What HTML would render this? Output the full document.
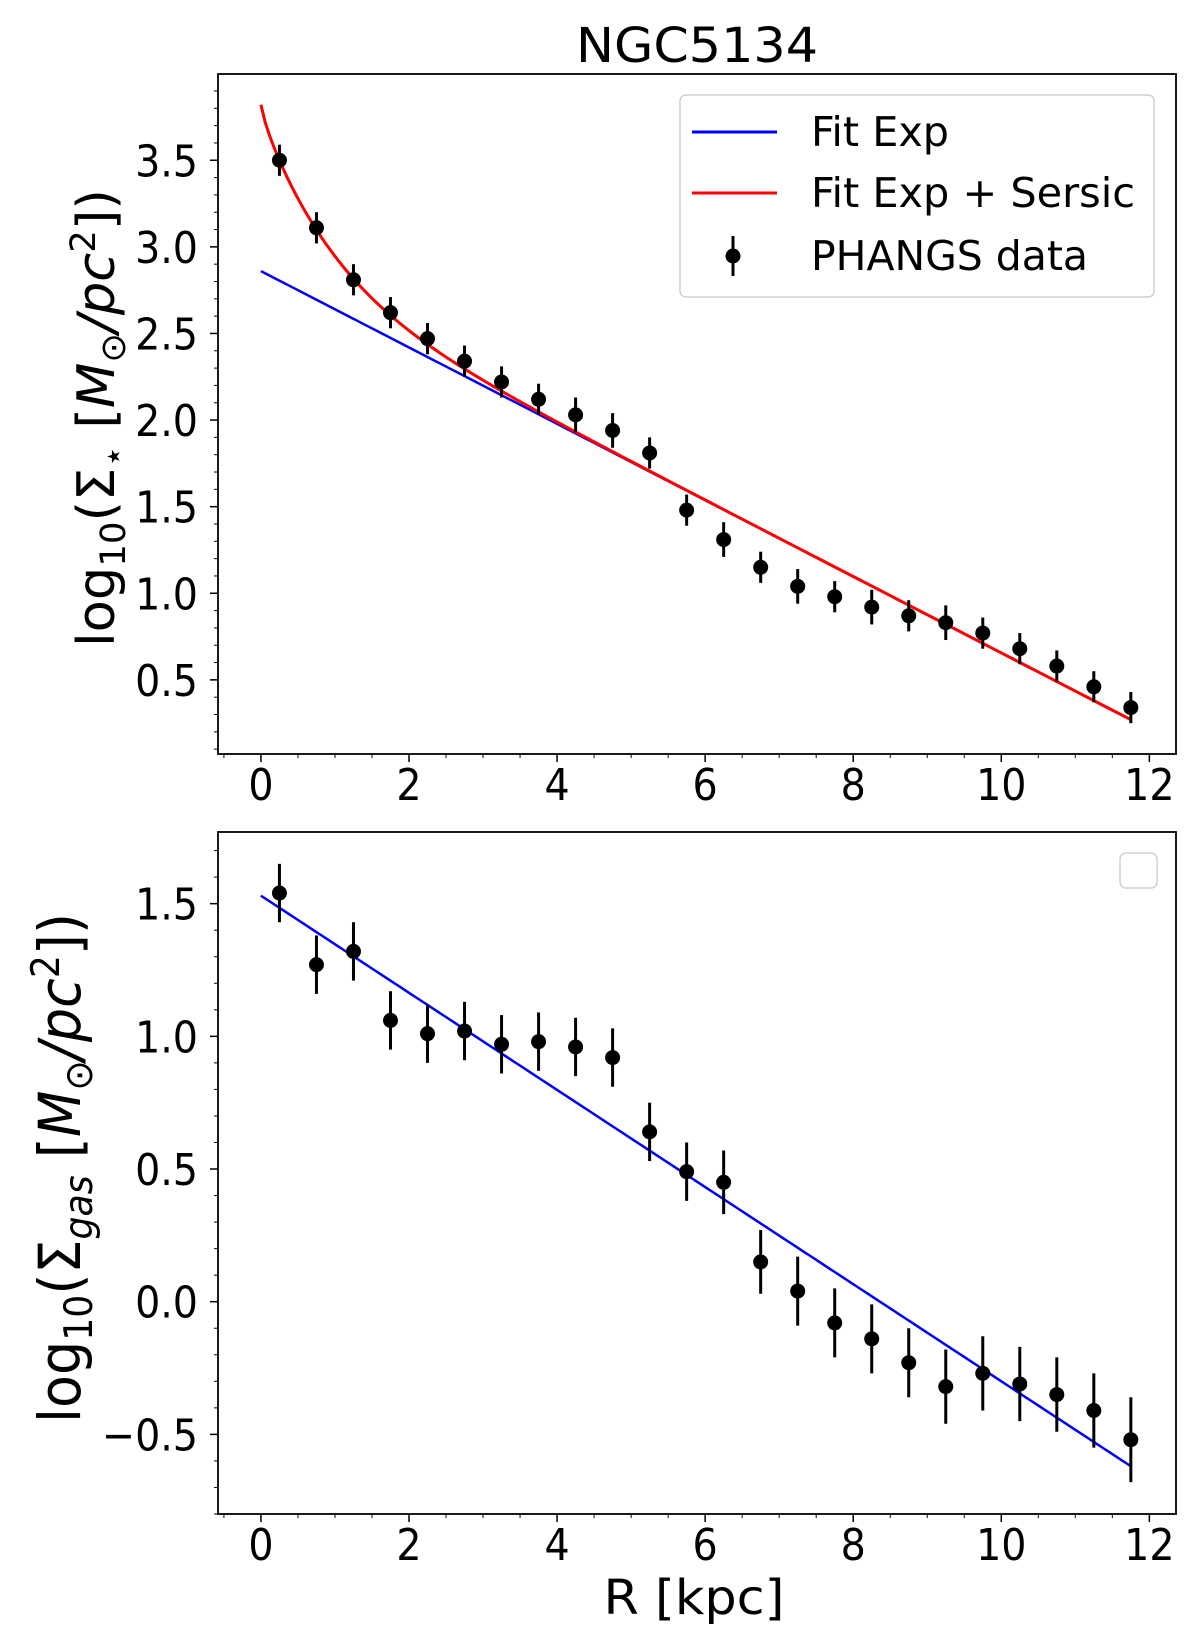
<!DOCTYPE html>
<html><head><meta charset="utf-8"><style>
html,body{margin:0;padding:0;background:#fff;}
svg{display:block;font-family:"DejaVu Sans","Liberation Sans",sans-serif;}
</style></head><body>
<svg id="fig" width="1200" height="1651" viewBox="0 0 1200 1651" xmlns="http://www.w3.org/2000/svg">
<text x="697" y="62" font-size="48" font-stretch="condensed" text-anchor="middle" textLength="242" lengthAdjust="spacingAndGlyphs">NGC5134</text>
<g id="topPanel"></g>
<g id="botPanel"></g>
<text transform="translate(114,418) rotate(-90)" font-size="52" text-anchor="middle" textLength="458" lengthAdjust="spacingAndGlyphs">log<tspan font-size="35" dy="11">10</tspan><tspan dy="-11">(Σ</tspan><tspan font-size="35" dy="11">⋆</tspan><tspan dy="-11"> [</tspan><tspan font-style="italic">M</tspan><tspan font-size="35" dy="11">⊙</tspan><tspan dy="-11" font-style="italic">/pc</tspan><tspan font-size="35" dy="-19">2</tspan><tspan dy="19">])</tspan></text>
<text transform="translate(80,1168) rotate(-90)" font-size="58" text-anchor="middle" textLength="510" lengthAdjust="spacingAndGlyphs">log<tspan font-size="39" dy="12">10</tspan><tspan dy="-12">(Σ</tspan><tspan font-size="39" dy="12" font-style="italic">gas</tspan><tspan dy="-12"> [</tspan><tspan font-style="italic">M</tspan><tspan font-size="39" dy="12">⊙</tspan><tspan dy="-12" font-style="italic">/pc</tspan><tspan font-size="39" dy="-21">2</tspan><tspan dy="21">])</tspan></text>
<text x="694" y="1614" font-size="48" font-stretch="condensed" text-anchor="middle" textLength="181" lengthAdjust="spacingAndGlyphs">R [kpc]</text>
</svg>
<script>
const radii = [0.25,0.75,1.25,1.75,2.25,2.75,3.25,3.75,4.25,4.75,5.25,5.75,6.25,6.75,7.25,7.75,8.25,8.75,9.25,9.75,10.25,10.75,11.25,11.75];
const stellarValues = [3.50,3.11,2.81,2.62,2.47,2.34,2.22,2.12,2.03,1.94,1.81,1.48,1.31,1.15,1.04,0.98,0.92,0.87,0.83,0.77,0.68,0.58,0.46,0.34];
const stellarErrors = [0.09,0.09,0.09,0.09,0.09,0.09,0.09,0.09,0.1,0.1,0.09,0.09,0.1,0.09,0.1,0.09,0.1,0.09,0.1,0.09,0.09,0.09,0.09,0.09];
const gasValues = [1.54,1.27,1.32,1.06,1.01,1.02,0.97,0.98,0.96,0.92,0.64,0.49,0.45,0.15,0.04,-0.08,-0.14,-0.23,-0.32,-0.27,-0.31,-0.35,-0.41,-0.52];
const gasErrors = [0.11,0.11,0.11,0.11,0.11,0.11,0.11,0.11,0.11,0.11,0.11,0.11,0.12,0.12,0.13,0.13,0.13,0.13,0.14,0.14,0.14,0.14,0.14,0.16];
const stellarExpFit = [2.86, 0.27];
const stellarSersic = [3.77, 1.12, 0.8];
const gasExpFit = [1.53, -0.62];
const xTicks = [0,2,4,6,8,10,12];
const topYTicks = [0.5,1.0,1.5,2.0,2.5,3.0,3.5];
const botYTicks = [-0.5,0.0,0.5,1.0,1.5];

const NS="http://www.w3.org/2000/svg";
function mk(parent,tag,attrs){const e=document.createElementNS(NS,tag);for(const k in attrs)e.setAttribute(k,attrs[k]);parent.appendChild(e);return e;}
function panel(g,box,xlim,ylim,yTicks,yMinorStep,vals,errs,fits,name){
  const X=v=>box.l+(v-xlim[0])/(xlim[1]-xlim[0])*(box.r-box.l);
  const Y=v=>box.b-(v-ylim[0])/(ylim[1]-ylim[0])*(box.b-box.t);
  fits.forEach(f=>{
    let d='';
    for(let i=0;i<=200;i++){const r=11.75*i/200;d+=(i?'L':'M')+X(r).toFixed(2)+','+Y(f.fn(r)).toFixed(2);}
    const p=mk(g,'path',{d:d,fill:'none',stroke:f.color,'stroke-width':f.w});
    
    
  });
  vals.forEach((v,i)=>{
    const l=mk(g,'line',{x1:X(radii[i]),x2:X(radii[i]),y1:Y(v-errs[i]),y2:Y(v+errs[i]),stroke:'#000','stroke-width':3});
    
    
    const c=mk(g,'circle',{cx:X(radii[i]),cy:Y(v),r:7.5,fill:'#000'});
    
    
  });
  const fr=mk(g,'rect',{x:box.l,y:box.t,width:box.r-box.l,height:box.b-box.t,fill:'none',stroke:'#000','stroke-width':1.8});
  
  
  xTicks.forEach(t=>{
    mk(g,'line',{x1:X(t),x2:X(t),y1:box.b,y2:box.b+8,stroke:'#000','stroke-width':1.5});
    const tx=mk(g,'text',{x:X(t),y:box.b+46,'font-size':44,'font-stretch':'condensed','text-anchor':'middle'});
    tx.textContent=t;
    
    
  });
  for(let m=-0.5;m<=12.3;m+=0.5){if(Math.abs(m-Math.round(m/2)*2)<1e-6)continue;mk(g,'line',{x1:X(m),x2:X(m),y1:box.b,y2:box.b+4,stroke:'#000','stroke-width':1});}
  yTicks.forEach(t=>{
    mk(g,'line',{x1:box.l-8,x2:box.l,y1:Y(t),y2:Y(t),stroke:'#000','stroke-width':1.5});
    const tx=mk(g,'text',{x:box.l-20,y:Y(t)+16,'font-size':44,'font-stretch':'condensed','text-anchor':'end'});
    tx.textContent=(t<0?'\u2212':'')+Math.abs(t).toFixed(1);
    
    
  });
  for(let m=Math.ceil(ylim[0]/yMinorStep)*yMinorStep;m<=ylim[1];m+=yMinorStep){mk(g,'line',{x1:box.l-4,x2:box.l,y1:Y(m),y2:Y(m),stroke:'#000','stroke-width':1});}
}
const lin=(a)=>r=>a[0]+(a[1]-a[0])*r/11.75;
const stellarBlue=lin(stellarExpFit);
const stellarRed=r=>Math.log10(Math.pow(10,stellarBlue(r))+Math.pow(10,stellarSersic[0]-stellarSersic[1]*Math.pow(r,stellarSersic[2])));
const topG=document.getElementById('topPanel'), botG=document.getElementById('botPanel');
panel(topG,{l:218,r:1176,t:74,b:754},[-0.58,12.36],[0.072,3.998],topYTicks,0.1,stellarValues,stellarErrors,
  [{fn:stellarBlue,color:'#0000ff',w:2.5,name:'fit-exp-line'},{fn:stellarRed,color:'#ff0000',w:3,name:'fit-exp-sersic-line'}],'stellar');
panel(botG,{l:218,r:1176,t:832,b:1514},[-0.58,12.36],[-0.80,1.77],botYTicks,0.1,gasValues,gasErrors,
  [{fn:lin(gasExpFit),color:'#0000ff',w:2.5,name:'gas-fit-exp-line'}],'gas');
const lg=mk(topG,'g',{});


mk(lg,'rect',{x:680,y:95,width:474,height:202,rx:6,fill:'#fff',stroke:'#d0d0d0','stroke-width':1.5});
const entries=[['Fit Exp','#0000ff',132,138],['Fit Exp + Sersic','#ff0000',193,324],['PHANGS data',null,256,277]];
entries.forEach(e=>{
  const eg=mk(lg,'g',{});
  
  
  if(e[1]) mk(eg,'line',{x1:692,x2:777,y1:e[2],y2:e[2],stroke:e[1],'stroke-width':3});
  else {mk(eg,'line',{x1:733,x2:733,y1:e[2]-20,y2:e[2]+20,stroke:'#000','stroke-width':3});mk(eg,'circle',{cx:733,cy:e[2],r:7.5,fill:'#000'});}
  const t=mk(eg,'text',{x:811,y:e[2]+14,'font-size':41,'font-stretch':'condensed',textLength:e[3],lengthAdjust:'spacingAndGlyphs'});t.textContent=e[0];
});
const el=mk(botG,'rect',{x:1120,y:853,width:37,height:35,rx:6,fill:'#fff',stroke:'#d0d0d0','stroke-width':1.5});


</script>
</body></html>
